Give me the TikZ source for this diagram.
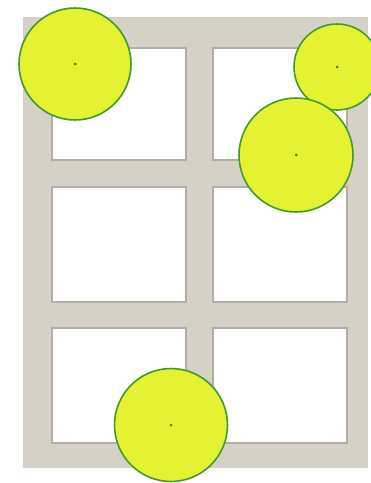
\documentclass[tikz,border=0pt]{standalone}
\usepackage{tikz}

\definecolor{frameclr}{HTML}{D6D1C6}
\definecolor{paneedge}{HTML}{B3ADA3}
\definecolor{crownfill}{HTML}{E4F232}
\definecolor{crownedge}{HTML}{3E9B2C}
\definecolor{stemclr}{HTML}{6E6A1E}

\begin{document}
\begin{tikzpicture}[
  x=0.02cm, y=-0.02cm,
  frame/.style={fill=frameclr},
  pane/.style={fill=white,draw=paneedge,line width=1.2pt},
  crown/.style={fill=crownfill,draw=crownedge,line width=0.9pt},
  stem/.style={fill=stemclr},
]
  % page
  \fill[white] (0,0) rectangle (371,483);
  \useasboundingbox (0,0) rectangle (371,483);

  % window frame and panes
  \fill[frame] (23,17) rectangle (368,468);
  \foreach \xa/\xb in {52/186,213/347}
    \foreach \ya/\yb in {48/160,187/302,328/443}
      \draw[pane] (\xa,\ya) rectangle (\xb,\yb);

  % crowns seen from above
  \coordinate (t1) at (75,64);
  \coordinate (t2) at (337,67);
  \coordinate (t3) at (296,155);
  \coordinate (t4) at (171,425);
  \draw[crown] (t1) circle[radius=1.12cm];
  \draw[crown] (t2) circle[radius=0.86cm];
  \draw[crown] (t3) circle[radius=1.14cm];
  \draw[crown] (t4) circle[radius=1.13cm];
  \foreach \t in {t1,t2,t3,t4}
    \fill[stem] (\t) circle[radius=0.03cm];
\end{tikzpicture}
\end{document}
